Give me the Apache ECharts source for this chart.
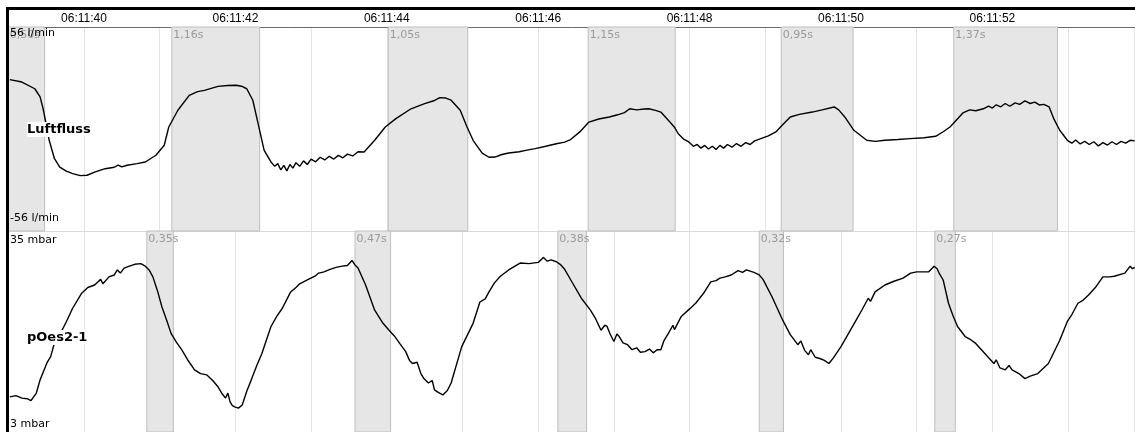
<!DOCTYPE html>
<html><head><meta charset="utf-8">
<script src="https://cdn.jsdelivr.net/npm/echarts@6/dist/echarts.min.js"></script>
<style>html,body{margin:0;padding:0;background:#fff}#c{width:1135px;height:432px}</style>
</head><body><div id="c"></div>
<script>
// ---- axis / ticks (seconds of minute 06:11) ----
const xMin = 39, xMax = 53.88;
const tickSeconds = [40, 42, 44, 46, 48, 50, 52];
const tickLabels = ['06:11:40', '06:11:42', '06:11:44', '06:11:46', '06:11:48', '06:11:50', '06:11:52'];

// ---- Luftfluss (l/min) ----
const flowRange = [-56, 56];
const flowT = [39.02,39.18,39.35,39.42,39.46,39.49,39.54,39.61,39.68,39.76,39.85,39.95,40.04,40.15,40.28,40.40,40.45,40.50,40.57,40.70,40.81,40.95,41.06,41.12,41.24,41.39,41.50,41.59,41.77,41.90,42.01,42.08,42.15,42.23,42.30,42.38,42.47,
  42.52,42.56,42.60,42.64,42.68,42.72,42.76,42.80,42.85,42.90,42.95,43.00,43.06,43.12,43.18,43.24,43.30,43.36,43.42,43.48,43.55,43.62,43.70,
  43.84,43.98,44.12,44.32,44.50,44.62,44.70,44.78,44.85,44.97,45.06,45.14,45.26,45.35,45.43,45.52,45.61,45.75,45.85,45.96,46.10,46.24,46.35,46.42,46.55,46.67,46.80,46.94,47.05,47.14,47.21,47.30,47.40,47.46,47.55,47.62,47.74,47.80,47.85,47.92,47.99,
  48.05,48.10,48.15,48.20,48.25,48.30,48.35,48.40,48.45,48.50,48.56,48.62,48.68,48.74,48.80,48.86,48.94,
  49.04,49.14,49.21,49.33,49.45,49.62,49.75,49.91,49.97,50.05,50.17,50.34,50.45,50.58,50.75,50.91,51.10,51.25,51.35,51.44,51.55,51.61,
  51.70,51.78,51.88,51.95,52.00,52.05,52.11,52.17,52.23,52.30,52.36,52.43,52.50,52.56,52.62,52.68,52.75,52.81,52.89,52.99,
  53.05,53.10,53.16,53.22,53.28,53.34,53.40,53.46,53.52,53.58,53.64,53.70,53.76,53.82,53.88];
const flowV = [27.1,25.8,22.1,17.6,11.1,4.8,-6.2,-16.3,-20.9,-23.0,-24.5,-25.6,-25.4,-23.5,-21.8,-21.0,-19.8,-20.8,-19.9,-19.0,-18.1,-14.4,-8.9,1.1,10.3,18.5,20.5,21.2,23.4,23.9,24.0,23.5,22.1,15.8,2.9,-11.7,-18.1,
  -20.5,-19.0,-22.5,-20.0,-23.0,-19.5,-21.5,-18.5,-20.5,-17.5,-19.5,-16.5,-18.0,-15.5,-17.0,-15.0,-16.5,-14.5,-15.8,-13.8,-14.8,-12.5,-12.6,
  -6.2,1.1,5.7,11.1,13.9,15.5,17.2,17.0,15.8,10.3,1.1,-6.2,-13.2,-15.5,-15.4,-14.0,-13.2,-12.5,-11.6,-10.8,-9.5,-8.1,-7.2,-6.0,-1.6,3.8,5.5,6.6,7.8,9.0,11.1,10.5,11.0,11.1,10.2,9.3,3.8,1.0,-2.6,-5.5,-7.1,
  -9.5,-8.5,-10.5,-9.0,-11.0,-9.5,-11.2,-9.0,-10.5,-8.5,-10.0,-8.0,-9.5,-7.5,-8.5,-6.5,-5.3,
  -3.8,-1.6,1.5,6.6,8.0,9.3,10.5,12.1,10.5,6.6,-0.7,-6.2,-6.8,-6.2,-5.8,-5.3,-4.8,-4.0,-1.5,1.1,6.0,8.8,
  10.5,10.0,11.1,12.5,11.5,13.3,12.2,14.0,12.5,14.3,13.5,15.4,14.0,14.8,13.2,13.5,12.1,5.7,-0.7,-6.2,
  -7.8,-6.0,-8.2,-6.8,-8.5,-7.0,-9.3,-7.5,-8.8,-7.0,-8.5,-6.8,-7.8,-6.2,-6.5];
const flowStarts = [39.0, 41.16, 44.02, 46.66, 49.21, 51.49];
const flowDurations = [0.48, 1.16, 1.05, 1.15, 0.95, 1.37];
const flowAreaLabels = ['0,50s', '1,16s', '1,05s', '1,15s', '0,95s', '1,37s'];

// ---- pOes2-1 (mbar) ----
const pRange = [3, 35];
const pT = [39.02,39.10,39.18,39.25,39.30,39.37,39.42,39.47,39.51,39.56,39.61,39.68,39.76,39.85,39.97,40.05,40.14,40.22,40.25,40.33,40.40,40.44,40.48,40.53,40.60,40.67,40.75,40.81,40.86,40.91,40.97,41.03,41.10,41.15,41.22,41.29,41.38,41.46,41.54,41.62,41.70,41.77,41.83,41.87,41.90,41.93,41.96,41.99,42.04,42.09,42.15,42.21,42.28,42.35,42.47,42.55,42.62,42.73,42.80,42.85,42.95,43.05,43.10,43.17,43.25,43.33,43.41,43.48,43.54,43.58,43.62,43.72,43.84,43.95,44.03,44.10,44.17,44.25,44.30,44.34,44.40,44.45,44.49,44.55,44.60,44.63,44.68,44.74,44.80,44.85,44.99,45.14,45.23,45.30,45.35,45.42,45.50,45.61,45.76,45.88,46.00,46.07,46.12,46.17,46.24,46.30,46.35,46.45,46.57,46.69,46.76,46.83,46.88,46.91,46.95,47.00,47.04,47.07,47.12,47.18,47.24,47.30,47.35,47.41,47.47,47.52,47.57,47.62,47.66,47.72,47.78,47.80,47.89,48.00,48.08,48.18,48.28,48.35,48.40,48.47,48.55,48.64,48.70,48.75,48.85,48.92,48.97,49.09,49.23,49.33,49.43,49.47,49.52,49.57,49.60,49.66,49.72,49.78,49.84,49.90,50.00,50.10,50.20,50.28,50.36,50.39,50.45,50.58,50.70,50.82,50.92,51.00,51.16,51.23,51.27,51.30,51.35,51.42,51.48,51.54,51.64,51.70,51.78,51.90,52.02,52.05,52.10,52.17,52.22,52.26,52.35,52.43,52.50,52.60,52.74,52.89,52.99,53.05,53.13,53.20,53.27,53.36,53.46,53.55,53.61,53.75,53.82,53.85,53.88];
const pV = [8.6,8.8,8.4,8.3,8.0,9.2,11.3,12.8,14.0,15.0,17.2,18.5,20.4,22.7,25.1,26.0,26.4,27.3,26.6,27.7,28.0,28.8,28.3,29.1,29.4,29.7,29.8,29.4,28.8,27.7,25.5,22.9,20.5,18.7,17.3,16.1,14.3,12.9,12.3,12.1,11.2,10.2,9.0,8.4,9.2,7.8,7.2,7.0,6.8,7.3,9.5,11.3,13.5,15.5,19.8,21.5,22.7,25.3,26.0,26.6,27.2,27.8,28.3,28.5,28.9,29.2,29.4,29.5,30.3,29.6,29.1,26.4,22.4,20.3,19.2,18.3,17.1,15.8,14.4,13.9,14.1,12.3,11.5,10.8,11.2,9.7,9.3,8.9,9.6,10.8,16.6,20.3,23.7,24.2,25.3,26.7,27.8,28.8,29.9,29.8,30.0,30.8,30.2,30.4,30.1,29.6,28.9,26.8,24.3,22.4,21.0,19.2,20.0,19.8,18.6,17.4,18.6,18.2,17.2,16.9,16.1,16.4,15.7,15.8,16.2,15.6,16.1,16.1,17.5,18.7,20.0,19.3,21.4,22.6,23.5,25.0,26.9,27.1,27.5,27.7,28.0,28.7,28.4,28.8,28.4,28.0,27.3,24.5,20.8,18.5,16.9,17.5,16.0,15.3,16.1,14.9,14.7,14.4,13.9,14.8,16.6,18.7,20.8,22.5,24.3,23.8,25.3,26.4,27.0,27.5,28.3,28.5,28.5,29.4,29.0,28.2,27.2,23.5,21.5,19.8,18.2,17.8,17.1,15.5,13.9,14.5,13.2,12.9,13.6,12.9,12.3,11.5,11.9,12.3,13.9,17.6,20.6,21.7,23.5,24.0,24.8,26.0,27.7,27.7,27.8,28.3,29.4,29.0,29.2];
const pStarts = [40.83, 43.58, 46.26, 48.92, 51.24];
const pDurations = [0.35, 0.47, 0.38, 0.32, 0.27];

const fmtDur = d => d.toFixed(2).replace('.', ',') + 's';
const flowData = flowT.map((t, i) => [t, flowV[i]]);
const pData = pT.map((t, i) => [t, pV[i]]);
const flowAreas = flowStarts.map((s, i) => [{ xAxis: s, name: flowAreaLabels[i] }, { xAxis: s + flowDurations[i] }]);
const pAreas = pStarts.map((s, i) => [{ xAxis: s, name: fmtDur(pDurations[i]) }, { xAxis: s + pDurations[i] }]);

const gridLineColor = '#e4e4e4';
const areaStyle = {
  silent: true,
  itemStyle: { color: '#e6e6e6', borderColor: '#bfbfbf', borderWidth: 1 },
  label: { show: true, position: [2, 3], color: '#9a9a9a', fontFamily: 'DejaVu Sans', fontSize: 11 },
  emphasis: { disabled: true }
};

const chart = echarts.init(document.getElementById('c'), null, { renderer: 'canvas' });
chart.setOption({
  animation: false,
  backgroundColor: '#ffffff',
  grid: [
    { left: 8.3, right: 0.3, top: 27, height: 204 },
    { left: 8.3, right: 0.3, top: 231, height: 201 }
  ],
  xAxis: [
    {
      gridIndex: 0, type: 'value', position: 'top', min: xMin, max: xMax, interval: 1,
      axisLine: { show: true, onZero: false, lineStyle: { color: '#6a6a6a', width: 1 } },
      axisTick: { show: false },
      axisLabel: {
        show: true, margin: 2, color: '#000',
        fontFamily: "'Liberation Sans', Arial", fontSize: 12,
        showMinLabel: false, showMaxLabel: false,
        formatter: v => { const i = tickSeconds.indexOf(Math.round(v)); return i >= 0 ? tickLabels[i] : ''; }
      },
      splitLine: { show: true, lineStyle: { color: gridLineColor, width: 1 } }
    },
    {
      gridIndex: 1, type: 'value', position: 'top', min: xMin, max: xMax, interval: 1,
      axisLine: { show: true, onZero: false, lineStyle: { color: '#dadada', width: 1 } },
      axisTick: { show: false }, axisLabel: { show: false },
      splitLine: { show: true, lineStyle: { color: gridLineColor, width: 1 } }
    }
  ],
  yAxis: [
    { gridIndex: 0, type: 'value', min: flowRange[0], max: flowRange[1], show: true,
      axisLine: { show: false }, axisTick: { show: false }, axisLabel: { show: false }, splitLine: { show: false } },
    { gridIndex: 1, type: 'value', min: pRange[0], max: pRange[1], show: true,
      axisLine: { show: false }, axisTick: { show: false }, axisLabel: { show: false }, splitLine: { show: false } }
  ],
  series: [
    { type: 'line', name: 'Luftfluss', xAxisIndex: 0, yAxisIndex: 0, data: flowData, showSymbol: false, symbol: 'none',
      lineStyle: { color: '#000', width: 1.4 }, clip: true, silent: true,
      markArea: Object.assign({ data: flowAreas }, areaStyle) },
    { type: 'line', name: 'pOes2-1', xAxisIndex: 1, yAxisIndex: 1, data: pData, showSymbol: false, symbol: 'none',
      lineStyle: { color: '#000', width: 1.4 }, clip: true, silent: true,
      markArea: Object.assign({ data: pAreas }, areaStyle) }
  ],
  graphic: [
    { type: 'rect', shape: { x: 6, y: 7, width: 1129, height: 3 }, style: { fill: '#000' }, z: 200 },
    { type: 'rect', shape: { x: 6, y: 7, width: 3, height: 425 }, style: { fill: '#000' }, z: 200 },
    { type: 'text', x: 10, y: 28, z: 150, style: { text: flowRange[1] + ' l/min', fill: '#000', font: '11px "DejaVu Sans"', textVerticalAlign: 'top' } },
    { type: 'text', x: 10, y: 213, z: 150, style: { text: flowRange[0] + ' l/min', fill: '#000', font: '11px "DejaVu Sans"', textVerticalAlign: 'top' } },
    { type: 'text', x: 10, y: 235, z: 150, style: { text: pRange[1] + ' mbar', fill: '#000', font: '11px "DejaVu Sans"', textVerticalAlign: 'top' } },
    { type: 'text', x: 10, y: 419, z: 150, style: { text: pRange[0] + ' mbar', fill: '#000', font: '11px "DejaVu Sans"', textVerticalAlign: 'top' } },
    { type: 'text', x: 27, y: 122, z: 150, style: { text: 'Luftfluss', fill: '#000', font: 'bold 13px "DejaVu Sans"', textVerticalAlign: 'top', backgroundColor: '#fff', padding: [1, 0, 1, 0] } },
    { type: 'text', x: 27, y: 330, z: 150, style: { text: 'pOes2-1', fill: '#000', font: 'bold 13px "DejaVu Sans"', textVerticalAlign: 'top', backgroundColor: '#fff', padding: [1, 0, 1, 0] } }
  ]
});
</script></body></html>
